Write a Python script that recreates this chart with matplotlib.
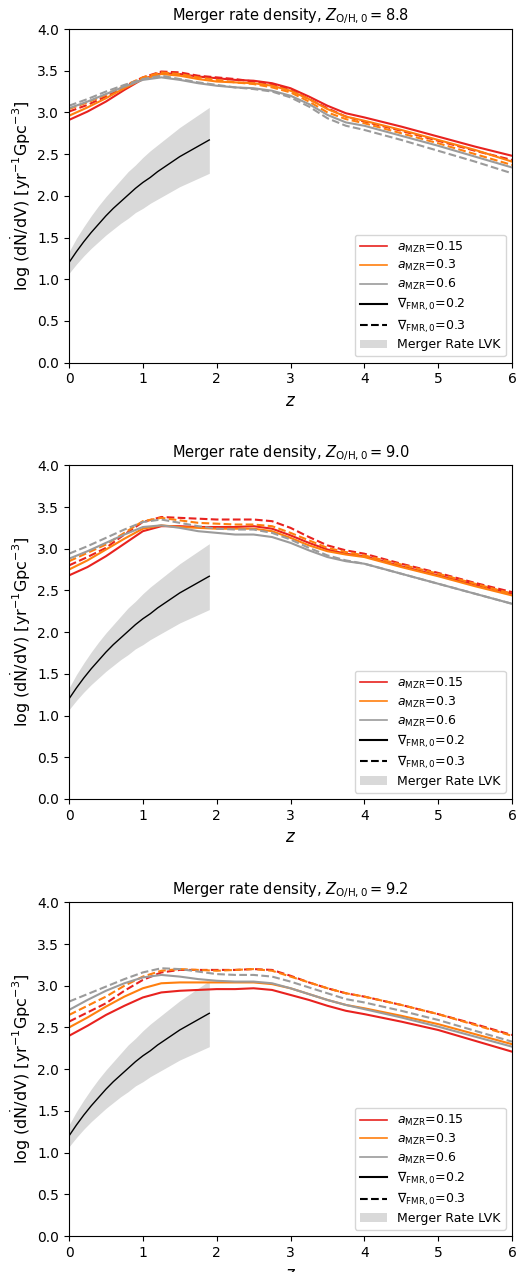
import numpy as np
import matplotlib.pyplot as plt
from matplotlib.lines import Line2D
from matplotlib.patches import Patch

# redshift grid for the model curves
z = [0.0, 0.25, 0.5, 0.75, 1.0, 1.25, 1.5, 1.75, 2.0, 2.25, 2.5, 2.75,
     3.0, 3.25, 3.5, 3.75, 4.0, 4.5, 5.0, 5.5, 6.0]

# Z_O/H,0 = 8.8
r88_a015_g02 = [2.91, 3.01, 3.13, 3.27, 3.40, 3.47, 3.46, 3.43, 3.41, 3.39, 3.38, 3.35, 3.29, 3.19, 3.08, 2.99, 2.94, 2.83, 2.71, 2.59, 2.48]
r88_a015_g03 = [3.01, 3.09, 3.19, 3.31, 3.42, 3.49, 3.48, 3.44, 3.42, 3.40, 3.37, 3.34, 3.27, 3.16, 3.05, 2.95, 2.89, 2.78, 2.66, 2.54, 2.43]
r88_a03_g02 = [2.96, 3.06, 3.17, 3.29, 3.40, 3.46, 3.44, 3.40, 3.37, 3.36, 3.35, 3.32, 3.26, 3.16, 3.04, 2.95, 2.90, 2.79, 2.67, 2.55, 2.41]
r88_a03_g03 = [3.04, 3.12, 3.21, 3.32, 3.42, 3.48, 3.46, 3.42, 3.39, 3.36, 3.34, 3.30, 3.24, 3.13, 3.00, 2.92, 2.87, 2.75, 2.63, 2.50, 2.37]
r88_a06_g02 = [3.05, 3.13, 3.22, 3.31, 3.39, 3.42, 3.39, 3.35, 3.32, 3.30, 3.29, 3.26, 3.20, 3.10, 2.97, 2.88, 2.84, 2.72, 2.60, 2.47, 2.34]
r88_a06_g03 = [3.08, 3.16, 3.25, 3.33, 3.40, 3.44, 3.40, 3.36, 3.33, 3.30, 3.28, 3.25, 3.18, 3.07, 2.93, 2.84, 2.79, 2.67, 2.54, 2.41, 2.27]

# Z_O/H,0 = 9.0
r90_a015_g02 = [2.68, 2.78, 2.91, 3.06, 3.21, 3.27, 3.27, 3.26, 3.26, 3.26, 3.27, 3.24, 3.16, 3.07, 2.99, 2.94, 2.91, 2.79, 2.68, 2.57, 2.46]
r90_a015_g03 = [2.80, 2.90, 3.01, 3.17, 3.32, 3.38, 3.37, 3.36, 3.35, 3.35, 3.35, 3.33, 3.25, 3.14, 3.04, 2.98, 2.94, 2.82, 2.71, 2.59, 2.48]
r90_a03_g02 = [2.75, 2.86, 2.99, 3.12, 3.24, 3.28, 3.26, 3.25, 3.24, 3.24, 3.24, 3.21, 3.13, 3.04, 2.97, 2.93, 2.90, 2.78, 2.67, 2.55, 2.44]
r90_a03_g03 = [2.85, 2.95, 3.05, 3.19, 3.33, 3.37, 3.34, 3.31, 3.30, 3.29, 3.29, 3.27, 3.19, 3.10, 3.01, 2.96, 2.92, 2.81, 2.70, 2.58, 2.46]
r90_a06_g02 = [2.88, 2.97, 3.07, 3.17, 3.26, 3.28, 3.25, 3.21, 3.19, 3.17, 3.17, 3.14, 3.07, 2.98, 2.90, 2.85, 2.82, 2.70, 2.58, 2.46, 2.34]
r90_a06_g03 = [2.94, 3.03, 3.13, 3.23, 3.32, 3.35, 3.31, 3.27, 3.24, 3.23, 3.23, 3.19, 3.11, 3.01, 2.92, 2.86, 2.82, 2.70, 2.58, 2.46, 2.34]

# Z_O/H,0 = 9.2
r92_a015_g02 = [2.40, 2.52, 2.65, 2.76, 2.86, 2.92, 2.94, 2.95, 2.96, 2.96, 2.97, 2.95, 2.89, 2.83, 2.76, 2.70, 2.66, 2.57, 2.47, 2.34, 2.21]
r92_a015_g03 = [2.57, 2.68, 2.79, 2.94, 3.07, 3.16, 3.19, 3.19, 3.19, 3.19, 3.20, 3.19, 3.12, 3.04, 2.97, 2.91, 2.87, 2.77, 2.66, 2.54, 2.41]
r92_a03_g02 = [2.50, 2.62, 2.75, 2.87, 2.97, 3.03, 3.04, 3.04, 3.04, 3.04, 3.04, 3.02, 2.97, 2.90, 2.83, 2.77, 2.73, 2.64, 2.54, 2.42, 2.30]
r92_a03_g03 = [2.65, 2.76, 2.87, 3.00, 3.11, 3.18, 3.20, 3.19, 3.18, 3.19, 3.20, 3.18, 3.11, 3.04, 2.97, 2.91, 2.87, 2.77, 2.66, 2.53, 2.40]
r92_a06_g02 = [2.71, 2.83, 2.94, 3.03, 3.10, 3.13, 3.11, 3.08, 3.06, 3.05, 3.05, 3.03, 2.97, 2.90, 2.83, 2.77, 2.72, 2.62, 2.51, 2.39, 2.27]
r92_a06_g03 = [2.81, 2.90, 2.99, 3.08, 3.16, 3.21, 3.20, 3.17, 3.14, 3.13, 3.13, 3.11, 3.05, 2.98, 2.91, 2.84, 2.80, 2.70, 2.59, 2.46, 2.33]

# LVK merger rate: median and band
z_lvk = [0.0, 0.1, 0.2, 0.3, 0.4, 0.5, 0.6, 0.7, 0.8, 0.9,
         1.0, 1.1, 1.2, 1.3, 1.4, 1.5, 1.6, 1.7, 1.8, 1.9]
lvk_mid = [1.20, 1.33, 1.45, 1.56, 1.66, 1.76, 1.85, 1.93, 2.01, 2.09,
           2.16, 2.22, 2.29, 2.35, 2.41, 2.47, 2.52, 2.57, 2.62, 2.67]
lvk_hi = [1.33, 1.49, 1.63, 1.76, 1.88, 1.99, 2.09, 2.19, 2.29, 2.37,
          2.46, 2.54, 2.61, 2.68, 2.75, 2.82, 2.88, 2.94, 3.00, 3.06]
lvk_lo = [1.07, 1.18, 1.28, 1.37, 1.45, 1.53, 1.60, 1.67, 1.73, 1.80,
          1.85, 1.91, 1.96, 2.01, 2.06, 2.11, 2.15, 2.19, 2.23, 2.27]

Z0_labels = ['8.8', '9.0', '9.2']
panels = [
    [r88_a015_g02, r88_a015_g03, r88_a03_g02, r88_a03_g03, r88_a06_g02, r88_a06_g03],
    [r90_a015_g02, r90_a015_g03, r90_a03_g02, r90_a03_g03, r90_a06_g02, r90_a06_g03],
    [r92_a015_g02, r92_a015_g03, r92_a03_g02, r92_a03_g03, r92_a06_g02, r92_a06_g03],
]
a_vals = ['0.15', '0.3', '0.6']
grad_vals = ['0.2', '0.3']
col = ['#e8221f', '#ff7f0e', '#9b9b9b']
ls = ['-', '--']
band_col = '#d9d9d9'

fig = plt.figure(figsize=(5.28, 12.72), dpi=100)
bottoms = [0.7149, 0.3719, 0.0283]

for k in range(3):
    ax = fig.add_axes([0.1307, bottoms[k], 0.839, 0.2623])
    ax.fill_between(z_lvk, lvk_lo, lvk_hi, color=band_col, lw=0, zorder=1)
    ax.plot(z_lvk, lvk_mid, color='k', lw=1.0, zorder=3)
    for i in range(3):
        for j in range(2):
            ax.plot(z, panels[k][2 * i + j], color=col[i], ls=ls[j], lw=1.5, zorder=2)
    ax.set_xlim(0, 6)
    ax.set_ylim(0, 4)
    ax.set_yticks(np.arange(0, 4.01, 0.5))
    ax.set_title(r'Merger rate density, $Z_{\rm O/H,0}=$' + r'$' + Z0_labels[k] + r'$', fontsize=10.5)
    ax.set_xlabel(r'$z$', fontsize=12)
    ax.set_ylabel(r'$\log\,(\rm d\dot{N}/dV)$ [yr$^{-1}$Gpc$^{-3}$]', fontsize=11.5, labelpad=3)

    handles = [Line2D([], [], color=col[i], lw=1.2) for i in range(3)]
    handles += [Line2D([], [], color='k', lw=1.5, ls=ls[j]) for j in range(2)]
    handles.append(Patch(color=band_col, lw=0))
    labels = [r'$a_{\rm MZR}$=' + a for a in a_vals]
    labels += [r'$\nabla_{\rm FMR,0}$=' + g for g in grad_vals]
    labels.append('Merger Rate LVK')
    ax.legend(handles, labels, loc='lower right', fontsize=9,
              handlelength=2.2, labelspacing=0.3)

plt.savefig('out.png', dpi=100)
